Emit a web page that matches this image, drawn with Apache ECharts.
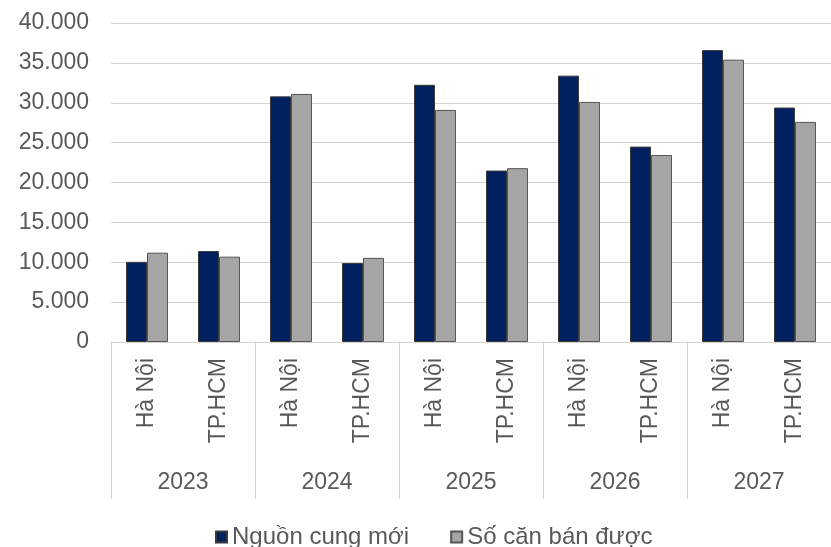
<!DOCTYPE html>
<html>
<head>
<meta charset="utf-8">
<script src="https://cdn.jsdelivr.net/npm/echarts@6/dist/echarts.min.js"></script>
<style>
html,body{margin:0;padding:0;background:#fff;}
#chart{width:831px;height:547px;}
</style>
</head>
<body>
<div id="chart"></div>
<script>
var years = ['2023', '2024', '2025', '2026', '2027'];
var cities = ['Hà Nội', 'TP.HCM'];
var seriesNames = ['Nguồn cung mới', 'Số căn bán được'];
var supply = [10050, 11400, 30800, 9900, 32250, 21500, 33400, 24500, 36600, 29400];
var sold = [11200, 10700, 31100, 10550, 29100, 21800, 30100, 23450, 35400, 27600];
var yMin = 0, yMax = 40000, yStep = 5000;

var categories = [];
years.forEach(function () { cities.forEach(function (c) { categories.push(c); }); });

var FONT = '"Liberation Sans", Arial, sans-serif';
var TXT = '#595959';
var GRID = '#d4d4d4';

var chart = echarts.init(document.getElementById('chart'), null, {renderer: 'canvas'});
chart.setOption({
  animation: false,
  backgroundColor: '#ffffff',
  textStyle: {fontFamily: FONT},
  grid: {left: 111, top: 23, width: 726, height: 319, containLabel: false},
  legend: {
    data: seriesNames,
    left: 210, top: 520,
    itemWidth: 11, itemHeight: 11, itemGap: 41,
    icon: 'rect',
    textStyle: {fontFamily: FONT, fontSize: 24, color: TXT, lineHeight: 24}
  },
  xAxis: [{
    type: 'category',
    data: categories,
    boundaryGap: true,
    axisLine: {show: true, lineStyle: {color: GRID, width: 1}},
    axisTick: {show: false},
    axisLabel: {interval: 0, rotate: 90, margin: 16, fontFamily: FONT, fontSize: 23, color: TXT}
  }, {
    type: 'category',
    data: years,
    position: 'bottom',
    boundaryGap: true,
    axisLine: {show: false},
    axisTick: {show: true, interval: 0, length: 157, lineStyle: {color: GRID, width: 1}},
    axisLabel: {interval: 0, margin: 129, fontFamily: FONT, fontSize: 23, color: TXT}
  }],
  yAxis: {
    type: 'value',
    min: yMin, max: yMax, interval: yStep,
    axisLine: {show: false},
    axisTick: {show: false},
    splitLine: {show: true, lineStyle: {color: GRID, width: 1}},
    axisLabel: {
      margin: 22, fontFamily: FONT, fontSize: 23, color: TXT,
      formatter: function (v) { return String(v).replace(/\B(?=(\d{3})+(?!\d))/g, '.'); }
    }
  },
  series: [{
    name: seriesNames[0],
    type: 'bar',
    xAxisIndex: 0,
    data: supply,
    barWidth: 21,
    barGap: '0%',
    itemStyle: {color: '#002060', borderColor: '#3a3a3a', borderWidth: 1}
  }, {
    name: seriesNames[1],
    type: 'bar',
    xAxisIndex: 0,
    data: sold,
    barWidth: 21,
    barGap: '0%',
    itemStyle: {color: '#a5a5a5', borderColor: '#555555', borderWidth: 1}
  }]
});
</script>
</body>
</html>
